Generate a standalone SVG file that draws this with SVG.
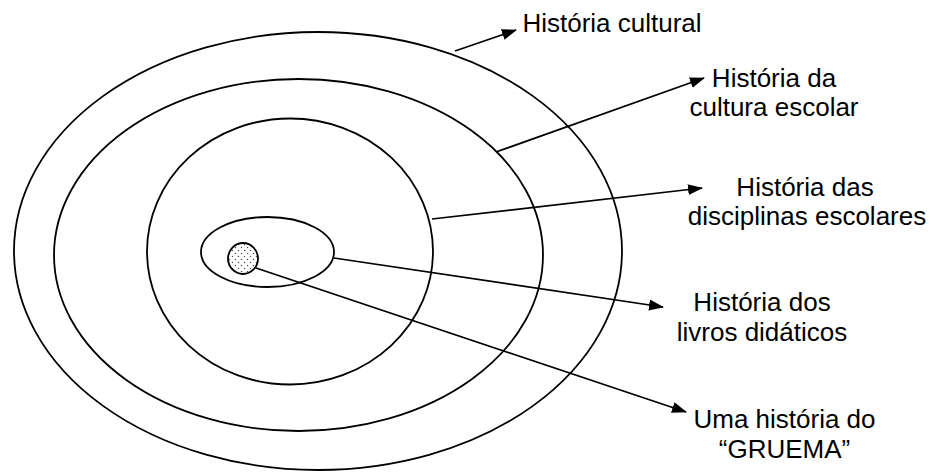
<svg xmlns="http://www.w3.org/2000/svg" width="933" height="472" viewBox="0 0 933 472">
<style>
.ring{fill:none;stroke:#000;stroke-width:1.8}
.conn{fill:none;stroke:#000;stroke-width:1.7;marker-end:url(#arr)}
.lbl{font-family:"Liberation Sans",Arial,sans-serif;font-size:26px;fill:#000;text-anchor:middle}
</style>
<defs>
<marker id="arr" markerUnits="userSpaceOnUse" markerWidth="15" markerHeight="12" refX="14" refY="5.5" orient="auto">
<path d="M0,0 L15,5.5 L0,11 z" fill="#000"/>
</marker>
<pattern id="dots" width="6" height="6" patternUnits="userSpaceOnUse">
<rect width="6" height="6" fill="#fff"/>
<circle cx="1.5" cy="1.5" r="0.75" fill="#555"/>
<circle cx="4.5" cy="4.5" r="0.75" fill="#555"/>
</pattern>
</defs>
<g id="historia-cultural"><ellipse class="ring" cx="318" cy="251" rx="304" ry="219"/></g>
<g id="cultura-escolar"><ellipse class="ring" cx="298.5" cy="255" rx="244.5" ry="176"/></g>
<g id="disciplinas-escolares"><ellipse class="ring" cx="290" cy="251.5" rx="143" ry="133"/></g>
<g id="livros-didaticos"><ellipse class="ring" cx="267.5" cy="252" rx="66.5" ry="35"/></g>
<g id="gruema"><ellipse cx="243" cy="258.5" rx="15" ry="15.5" fill="url(#dots)" stroke="#000" stroke-width="1.8"/></g>
<g id="connectors">
<line class="conn" x1="455" y1="51" x2="516" y2="30"/>
<line class="conn" x1="496" y1="152" x2="704" y2="78"/>
<line class="conn" x1="432" y1="219" x2="702" y2="188"/>
<line class="conn" x1="334" y1="258" x2="663" y2="307"/>
<line class="conn" x1="256" y1="268" x2="686" y2="412"/>
</g>
<g id="labels">
<text class="lbl" x="612" y="32">História cultural</text>
<text class="lbl" x="774" y="87">História da</text>
<text class="lbl" x="774" y="116">cultura escolar</text>
<text class="lbl" x="805" y="196">História das</text>
<text class="lbl" x="807" y="225">disciplinas escolares</text>
<text class="lbl" x="762" y="311">História dos</text>
<text class="lbl" x="762" y="341">livros didáticos</text>
<text class="lbl" x="784.5" y="428">Uma história do</text>
<text class="lbl" x="784.5" y="458">“GRUEMA”</text>
</g>
</svg>
